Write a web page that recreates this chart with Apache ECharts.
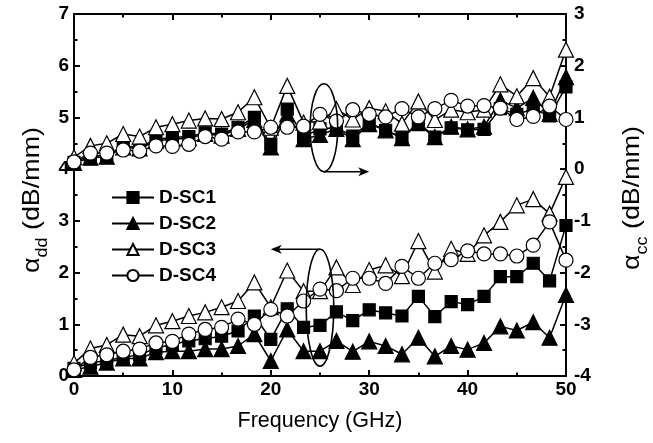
<!DOCTYPE html>
<html>
<head>
<meta charset="utf-8">
<script src="https://cdn.jsdelivr.net/npm/echarts@6/dist/echarts.min.js"></script>
<style>
html,body{margin:0;padding:0;background:#fff;}
#chart{width:653px;height:443px;}
</style>
</head>
<body>
<div id="chart"></div>
<script>
// Frequency (GHz)
const freq = [0,1.67,3.33,5,6.67,8.33,10,11.67,13.33,15,16.67,18.33,20,21.67,23.33,25,26.67,28.33,30,31.67,33.33,35,36.67,38.33,40,41.67,43.33,45,46.67,48.33,50];

// alpha_dd (left axis, dB/mm)
const dd1 = [0.15,0.25,0.30,0.36,0.41,0.54,0.61,0.68,0.72,0.77,0.87,1.16,0.71,1.30,0.94,0.98,1.24,1.07,1.28,1.22,1.16,1.54,1.15,1.44,1.38,1.54,1.92,1.92,2.18,1.84,2.91];
const dd2 = [0.12,0.18,0.26,0.34,0.34,0.46,0.48,0.48,0.52,0.52,0.58,0.81,0.29,0.90,0.48,0.48,0.68,0.47,0.67,0.58,0.42,0.74,0.38,0.58,0.51,0.64,0.96,0.88,1.04,0.74,1.57];
const dd3 = [0.25,0.53,0.60,0.80,0.77,0.98,1.06,1.16,1.23,1.33,1.45,1.81,1.33,2.04,1.64,1.64,2.10,1.76,2.05,2.14,1.93,2.61,2.02,2.46,2.36,2.72,2.98,3.30,3.42,3.14,3.85];
const dd4 = [0.12,0.36,0.41,0.48,0.52,0.64,0.67,0.81,0.90,0.94,1.10,1.00,1.29,1.16,1.45,1.68,1.65,1.89,1.89,1.79,2.12,1.89,2.18,2.25,2.42,2.36,2.36,2.32,2.53,2.98,2.24];

// alpha_cc (right axis, dB/mm)
const cc1 = [0.13,0.26,0.26,0.45,0.42,0.58,0.61,0.63,0.70,0.68,0.81,1.00,0.48,1.16,0.63,0.78,0.80,0.64,0.90,0.75,0.62,0.86,0.62,0.80,0.76,0.77,1.17,1.06,1.16,1.03,1.59];
const cc2 = [0.12,0.22,0.24,0.42,0.40,0.55,0.58,0.60,0.68,0.65,0.78,0.95,0.42,1.06,0.58,0.66,0.78,0.58,0.87,0.75,0.60,0.90,0.62,0.82,0.77,0.82,1.33,1.18,1.38,1.07,1.78];
const cc3 = [0.23,0.45,0.50,0.68,0.63,0.81,0.87,0.94,0.98,0.97,1.10,1.39,0.80,1.61,0.90,0.92,1.16,0.96,1.18,1.12,0.88,1.31,0.95,1.15,1.10,1.15,1.64,1.41,1.76,1.40,2.31];
const cc4 = [0.14,0.31,0.31,0.37,0.35,0.45,0.44,0.48,0.63,0.58,0.72,0.72,0.81,0.81,0.83,1.06,0.93,1.15,1.06,1.01,1.17,1.01,1.17,1.33,1.22,1.23,1.18,0.96,1.02,1.22,0.96];

const names = ['D-SC1','D-SC2','D-SC3','D-SC4'];
const xTicks = {min:0, max:50, interval:10};
const ddTicks = {min:0, max:7, interval:1};
const ccTicks = {min:-4, max:3, interval:1};

const FONT = 'Liberation Sans, Arial, sans-serif';
const styles = [
  {symbol:'rect', fill:'#000', size:12},
  {symbol:'triangle', fill:'#000', size:15},
  {symbol:'triangle', fill:'#fff', size:15},
  {symbol:'circle', fill:'#fff', size:14}
];

function pairs(ys){ return freq.map((f,i)=>[f, ys[i]]); }
function mkSeries(name, ys, st, yAxisIndex){
  return {
    name, type:'line', data: pairs(ys), yAxisIndex, xAxisIndex:0,
    symbol: st.symbol, symbolSize: st.size,
    lineStyle:{color:'#000', width:1.5},
    itemStyle:{color: st.fill, borderColor:'#000', borderWidth:1.2},
    emphasis:{disabled:true}, animation:false
  };
}

const ddSets = [dd1,dd2,dd3,dd4];
const ccSets = [cc1,cc2,cc3,cc4];
const series = [];
for (let i=0;i<4;i++){ series.push(mkSeries(names[i], ccSets[i], styles[i], 1)); }
for (let i=0;i<4;i++){ series.push(mkSeries(names[i], ddSets[i], styles[i], 0)); }

const axisLine = {show:true, onZero:false, lineStyle:{color:'#000', width:2}};
const axisTick = {show:true, inside:true, length:6, lineStyle:{color:'#000', width:2}};
const minorTick = {show:true, splitNumber:2, length:3.5, lineStyle:{color:'#000', width:2}};
const labelStyle = {color:'#000', fontSize:19, fontWeight:'bold', fontFamily:FONT};

const chart = echarts.init(document.getElementById('chart'), null, {renderer:'canvas'});
const option = {
  backgroundColor:'#fff',
  animation:false,
  grid:{left:74, right:87, top:14, bottom:67, containLabel:false},
  legend:{
    data: names, orient:'vertical', left:106, top:183,
    itemWidth:42, itemHeight:14, itemGap:7,
    textStyle:{color:'#000', fontSize:19, fontWeight:'bold', fontFamily:FONT}
  },
  xAxis:[
    {type:'value', position:'bottom', ...xTicks, axisLine, axisTick, minorTick,
     splitLine:{show:false}, minorSplitLine:{show:false},
     axisLabel:Object.assign({margin:4}, labelStyle),
     name:'Frequency (GHz)', nameLocation:'middle', nameGap:34,
     nameTextStyle:{color:'#000', fontSize:21.5, fontFamily:FONT}},
    {type:'value', position:'top', ...xTicks, axisLine, axisTick, minorTick,
     splitLine:{show:false}, axisLabel:{show:false}}
  ],
  yAxis:[
    {type:'value', position:'left', ...ddTicks, axisLine, axisTick, minorTick,
     splitLine:{show:false},
     axisLabel:Object.assign({margin:5}, labelStyle)},
    {type:'value', position:'right', ...ccTicks, axisLine, axisTick, minorTick,
     splitLine:{show:false},
     axisLabel:Object.assign({margin:8}, labelStyle)}
  ],
  series
};
chart.setOption(option);

// Annotations (ellipses + arrows) placed via data coordinates
function px(x,y){ return chart.convertToPixel({xAxisIndex:0, yAxisIndex:0}, [x,y]); }
function arrowHead(tip, dir){
  const L = 11, W = 4.5;
  const bx = tip[0] - dir*L;
  return {type:'polygon', shape:{points:[[tip[0],tip[1]],[bx,tip[1]-W],[bx+dir*3,tip[1]],[bx,tip[1]+W]]},
          style:{fill:'#000'}, z:100};
}
function yTitle(sub, cx, cy){
  return {
    type:'text', x:cx, y:cy, rotation:Math.PI/2, scaleX:1.12, scaleY:1, z:100,
    style:{
      text:'{a|α}{b|' + sub + '}{a| (dB/mm)}',
      align:'center', verticalAlign:'middle',
      rich:{
        a:{fontSize:24, fontFamily:FONT, fill:'#000', lineHeight:28, verticalAlign:'bottom'},
        b:{fontSize:16, fontFamily:FONT, fill:'#000', lineHeight:28, verticalAlign:'bottom', padding:[0,0,-7,0]}
      }
    }
  };
}
const upC = px(25.4, 4.8), upR = px(26.8, 5.65);
const loC = px(25.0, 1.32), loR = px(26.4, 2.45);
const upRx = upR[0]-upC[0], upRy = upC[1]-upR[1];
const loRx = loR[0]-loC[0], loRy = loC[1]-loR[1];
const upStart = [upC[0], upC[1]+upRy];
const upEnd = [px(30.0, 0)[0], upStart[1]];
const loStart = [loC[0], loC[1]-loRy];
const loEnd = [px(20.0, 0)[0], loStart[1]];
chart.setOption({
  graphic:[
    {type:'ellipse', shape:{cx:upC[0], cy:upC[1], rx:upRx, ry:upRy}, style:{fill:null, stroke:'#000', lineWidth:1.6}, z:100},
    {type:'line', shape:{x1:upStart[0], y1:upStart[1], x2:upEnd[0]-6, y2:upEnd[1]}, style:{stroke:'#000', lineWidth:1.6}, z:100},
    arrowHead(upEnd, 1),
    {type:'ellipse', shape:{cx:loC[0], cy:loC[1], rx:loRx, ry:loRy}, style:{fill:null, stroke:'#000', lineWidth:1.6}, z:100},
    {type:'line', shape:{x1:loStart[0], y1:loStart[1], x2:loEnd[0]+6, y2:loEnd[1]}, style:{stroke:'#000', lineWidth:1.6}, z:100},
    arrowHead(loEnd, -1),
    yTitle('dd', 30, 200),
    yTitle('cc', 630, 198)
  ]
});
</script>
</body>
</html>
